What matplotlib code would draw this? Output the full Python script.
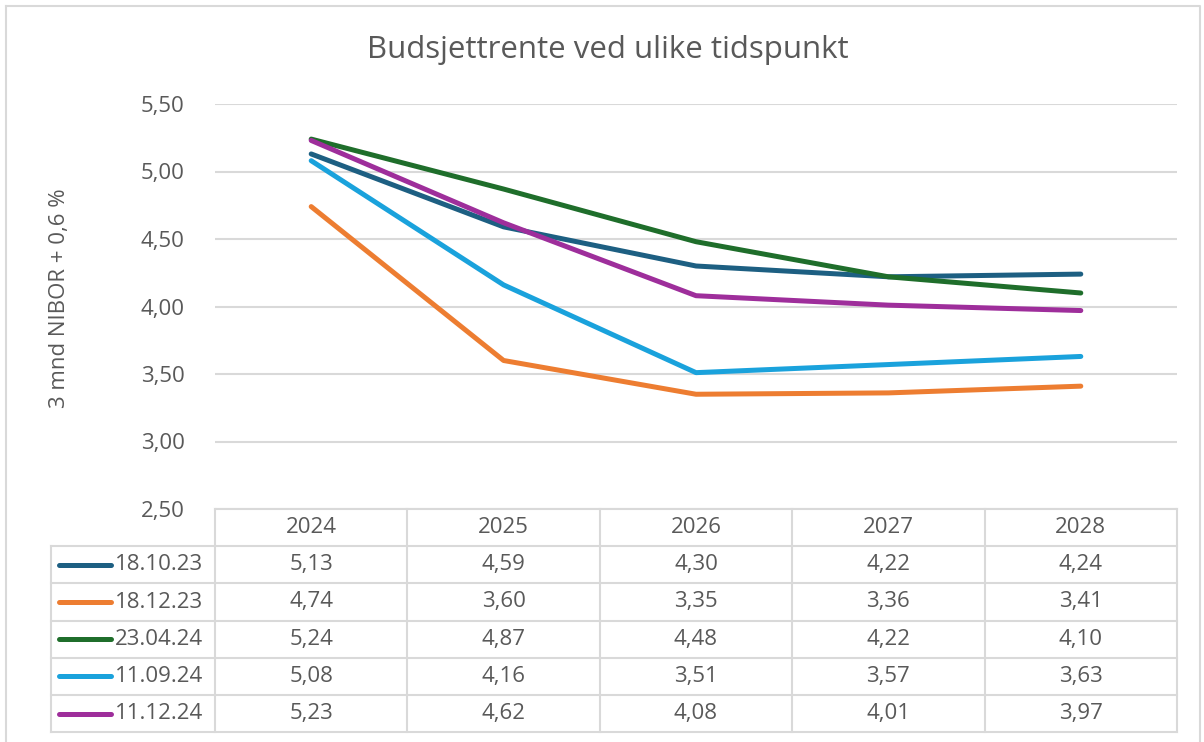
import matplotlib.pyplot as plt

plt.rcParams['font.family'] = ['Open Sans', 'DejaVu Sans']

# data
years = ['2024', '2025', '2026', '2027', '2028']
series_labels = ['18.10.23', '18.12.23', '23.04.24', '11.09.24', '11.12.24']
r_181023 = [5.13, 4.59, 4.30, 4.22, 4.24]
r_181223 = [4.74, 3.60, 3.35, 3.36, 3.41]
r_230424 = [5.24, 4.87, 4.48, 4.22, 4.10]
r_110924 = [5.08, 4.16, 3.51, 3.57, 3.63]
r_111224 = [5.23, 4.62, 4.08, 4.01, 3.97]
series = [r_181023, r_181223, r_230424, r_110924, r_111224]
colors = ['#1d5f82', '#ed7d31', '#1f6e2b', '#1aa2dc', '#9e2e9b']
y_ticks = [2.5, 3.0, 3.5, 4.0, 4.5, 5.0, 5.5]

text_col = '#595959'
grid_col = '#d9d9d9'
fs = 16


def fmt(v):
    return f'{v:.2f}'.replace('.', ',')


W, H = 1204, 742
fig = plt.figure(figsize=(W / 100, H / 100), dpi=100)

# overlay in pixel coordinates for frame and table
ov = fig.add_axes([0, 0, 1, 1])
ov.set_xlim(0, W)
ov.set_ylim(H, 0)
ov.axis('off')

# plot area (pixels)
left, right, top, bottom = 215, 1177, 104, 509
ax = fig.add_axes([left / W, 1 - bottom / H, (right - left) / W, (bottom - top) / H])
ax.set_xlim(-0.5, len(years) - 0.5)
ax.set_ylim(2.5, 5.5)
ax.set_yticks(y_ticks)
ax.set_yticklabels([fmt(v) for v in y_ticks])
ax.set_xticks([])
ax.tick_params(axis='y', length=0, pad=22, labelsize=fs, labelcolor=text_col)
for s in ax.spines.values():
    s.set_visible(False)
ax.grid(axis='y', color=grid_col, lw=1.5)
ax.set_axisbelow(True)
ax.patch.set_alpha(0)

for vals, c in zip(series, colors):
    ax.plot(range(len(years)), vals, color=c, lw=3.6, solid_capstyle='round', solid_joinstyle='round')

ax.set_ylabel('3 mnd NIBOR + 0,6 %', fontsize=fs, color=text_col)
ax.yaxis.set_label_coords((70 - left) / (right - left), 0.52)

fig.text(608 / W, 1 - 50 / H, 'Budsjettrente ved ulike tidspunkt', ha='center', va='center',
         fontsize=22.5, color=text_col)

# outer frame
ov.plot([6, 1200, 1200, 6, 6], [6, 6, 745, 745, 6], color=grid_col, lw=1.5)

# data table
col_w = (right - left) / len(years)
head_top = 509
row_h = 37.2
leg_left = 51
n = len(series)
tlw = 1.5
ov.plot([left, right], [head_top, head_top], color=grid_col, lw=tlw)
for i in range(n + 1):
    y = head_top + row_h * (i + 1)
    ov.plot([leg_left, right], [y, y], color=grid_col, lw=tlw)
ov.plot([leg_left, leg_left], [head_top + row_h, head_top + row_h * (n + 1)], color=grid_col, lw=tlw)
for j in range(len(years) + 1):
    x = left + col_w * j
    ov.plot([x, x], [head_top, head_top + row_h * (n + 1)], color=grid_col, lw=tlw)
for j, yr in enumerate(years):
    ov.text(left + col_w * (j + 0.5), head_top + row_h / 2, yr, ha='center', va='center',
            fontsize=fs, color=text_col)
for i, (lab, vals, c) in enumerate(zip(series_labels, series, colors)):
    yc = head_top + row_h * (i + 1.5)
    ov.plot([59, 111], [yc, yc], color=c, lw=3.6, solid_capstyle='round')
    ov.text(115, yc, lab, ha='left', va='center', fontsize=fs, color=text_col)
    for j, v in enumerate(vals):
        ov.text(left + col_w * (j + 0.5), yc, fmt(v), ha='center',
                va='center', fontsize=fs, color=text_col)

fig.savefig('out.png', dpi=100)
